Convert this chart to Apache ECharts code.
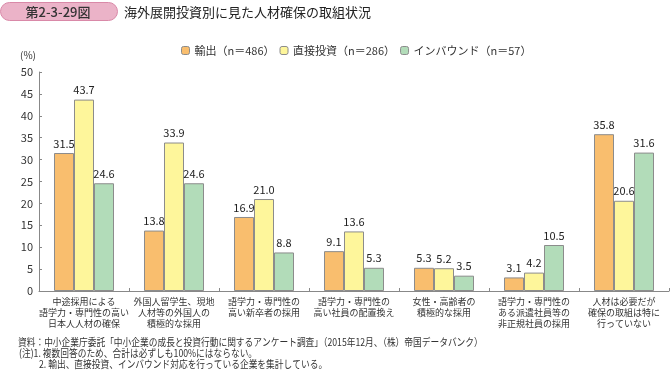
<!DOCTYPE html>
<html><head><meta charset="utf-8">
<script src="https://cdn.jsdelivr.net/npm/echarts@6/dist/echarts.min.js"></script>
<style>html,body{margin:0;padding:0;background:#fff}#c{width:670px;height:371px}</style>
</head><body><div id="c"></div>
<script>
var categories = [
  '中途採用による\n語学力・専門性の高い\n日本人人材の確保',
  '外国人留学生、現地\n人材等の外国人の\n積極的な採用',
  '語学力・専門性の\n高い新卒者の採用',
  '語学力・専門性の\n高い社員の配置換え',
  '女性・高齢者の\n積極的な採用',
  '語学力・専門性の\nある派遣社員等の\n非正規社員の採用',
  '人材は必要だが\n確保の取組は特に\n行っていない'
];
var seriesNames = ['輸出（n＝486）', '直接投資（n＝286）', 'インバウンド（n＝57）'];
var exportVals = [31.5, 13.8, 16.9, 9.1, 5.3, 3.1, 35.8];
var directVals = [43.7, 33.9, 21.0, 13.6, 5.2, 4.2, 20.6];
var inboundVals = [24.6, 24.6, 8.8, 5.3, 3.5, 10.5, 31.6];
var yTicks = [0, 5, 10, 15, 20, 25, 30, 35, 40, 45, 50];
var colors = ['#F9BE6E', '#FEF69B', '#B2DCB9'];
var FONT = '"Noto Sans CJK JP", "Noto Sans", sans-serif';

var chart = echarts.init(document.getElementById('c'), null, {renderer: 'canvas'});
function mk(name, data, i) {
  return {
    name: name, type: 'bar', data: data,
    barWidth: 20, barGap: '0%',
    itemStyle: {color: colors[i], borderColor: '#8C8C8C', borderWidth: 1},
    label: {show: true, position: 'top', distance: 4, color: '#222', fontSize: 11, fontFamily: FONT,
      formatter: function (p) { return p.value.toFixed(1); }}
  };
}
function note(x, y, t) {
  return {type: 'text', x: x, y: y, scaleX: 0.83,
    style: {text: t, fill: '#333', font: '10.5px ' + FONT, textAlign: 'left', textVerticalAlign: 'middle'}};
}
chart.setOption({
  animation: false,
  textStyle: {fontFamily: FONT},
  grid: {left: 39, right: 1, top: 72, bottom: 80, containLabel: false},
  legend: {
    data: seriesNames, top: 40, left: 176, itemWidth: 8, itemHeight: 8, itemGap: 5,
    textStyle: {fontSize: 11, color: '#333', fontFamily: FONT},
    itemStyle: {borderColor: '#8C8C8C', borderWidth: 1}
  },
  xAxis: {
    type: 'category', data: categories,
    axisLine: {lineStyle: {color: '#888'}},
    axisTick: {show: true, inside: true, length: 3, lineStyle: {color: '#888'}},
    axisLabel: {interval: 0, fontSize: 9, color: '#333', lineHeight: 11, margin: 5, fontFamily: FONT}
  },
  yAxis: {
    type: 'value', min: yTicks[0], max: yTicks[yTicks.length - 1], interval: 5,
    splitLine: {show: false},
    axisLine: {show: true, lineStyle: {color: '#888'}},
    axisTick: {show: true, inside: true, length: 3, lineStyle: {color: '#888'}},
    axisLabel: {fontSize: 11, color: '#333', margin: 6, fontFamily: FONT}
  },
  series: [mk(seriesNames[0], exportVals, 0), mk(seriesNames[1], directVals, 1), mk(seriesNames[2], inboundVals, 2)],
  graphic: [
    {type: 'rect', shape: {x: 0.5, y: 2.5, width: 117, height: 18, r: 9},
      style: {fill: '#EBB3C8', stroke: '#D989A8', lineWidth: 1}},
    {type: 'text', x: 58, y: 12, style: {text: '第2-3-29図', fill: '#333', font: '500 13px ' + FONT, textAlign: 'center', textVerticalAlign: 'middle'}},
    {type: 'text', x: 124, y: 12, style: {text: '海外展開投資別に見た人材確保の取組状況', fill: '#222', font: '13px ' + FONT, textAlign: 'left', textVerticalAlign: 'middle'}},
    {type: 'text', x: 20, y: 55, style: {text: '(%)', fill: '#333', font: '10px ' + FONT, textAlign: 'left', textVerticalAlign: 'middle'}},
    note(18, 342, '資料：中小企業庁委託「中小企業の成長と投資行動に関するアンケート調査」（2015年12月、（株）帝国データバンク）'),
    note(19, 353, '(注)1. 複数回答のため、合計は必ずしも100%にはならない。'),
    note(39, 364, '2. 輸出、直接投資、インバウンド対応を行っている企業を集計している。')
  ]
});
</script></body></html>
